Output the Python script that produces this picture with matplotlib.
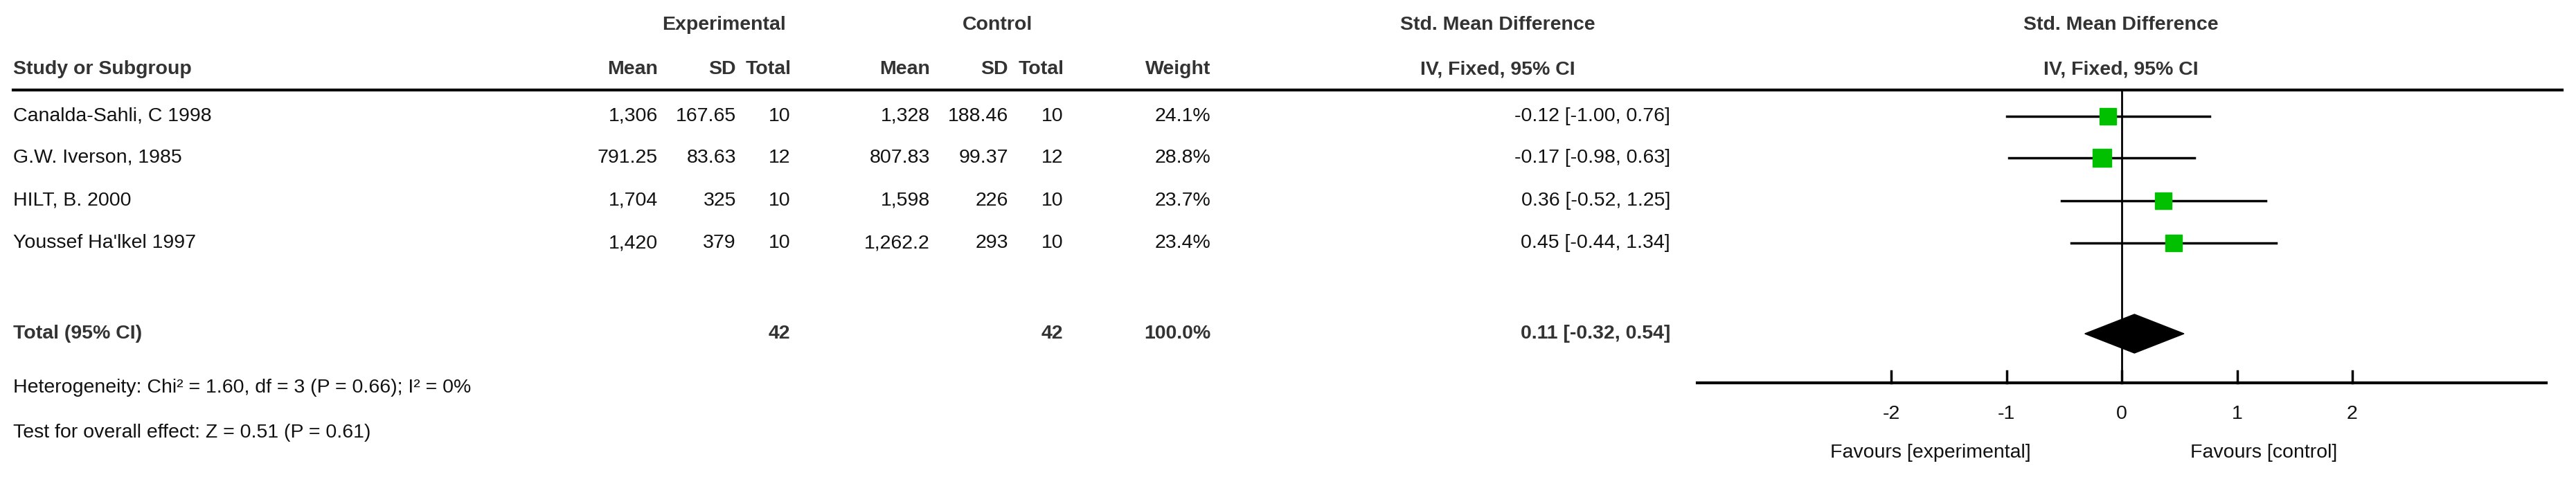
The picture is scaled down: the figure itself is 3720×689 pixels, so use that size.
import matplotlib.pyplot as plt
from matplotlib.patches import Rectangle, Polygon
import numpy as np

studies = ['Canalda-Sahli, C 1998', 'G.W. Iverson, 1985', 'HILT, B. 2000', "Youssef Ha'lkel 1997"]
exp_mean = ['1,306', '791.25', '1,704', '1,420']
exp_sd = ['167.65', '83.63', '325', '379']
exp_n = [10, 12, 10, 10]
ctl_mean = ['1,328', '807.83', '1,598', '1,262.2']
ctl_sd = ['188.46', '99.37', '226', '293']
ctl_n = [10, 12, 10, 10]
weight = [24.1, 28.8, 23.7, 23.4]
smd = [-0.12, -0.17, 0.36, 0.45]
lo = [-1.00, -0.98, -0.52, -0.44]
hi = [0.76, 0.63, 1.25, 1.34]
tot_smd, tot_lo, tot_hi = 0.11, -0.32, 0.54
ticks = [-2, -1, 0, 1, 2]

W, H = 3720, 689
fig = plt.figure(figsize=(W / 100, H / 100), dpi=100)
ax = fig.add_axes([0, 0, 1, 1])
ax.set_xlim(0, W)
ax.set_ylim(H, 0)
ax.axis('off')

fam = ['Liberation Sans', 'DejaVu Sans']
fs = 20.5
txt = dict(fontsize=fs, family=fam, va='center', color='#111111')
bold = dict(txt, fontweight='bold', color='#333333')

# header
ax.text(1045, 36, 'Experimental', ha='center', **bold)
ax.text(1440, 36, 'Control', ha='center', **bold)
ax.text(2163, 36, 'Std. Mean Difference', ha='center', **bold)
ax.text(3063, 36, 'Std. Mean Difference', ha='center', **bold)
row2 = [(19, 'Study or Subgroup', 'left'), (950, 'Mean', 'right'), (1063, 'SD', 'right'),
        (1143, 'Total', 'right'), (1343, 'Mean', 'right'), (1456, 'SD', 'right'),
        (1537, 'Total', 'right'), (1748, 'Weight', 'right')]
for x, s, a in row2:
    ax.text(x, 100, s, ha=a, **bold)
ax.text(2163, 100, 'IV, Fixed, 95% CI', ha='center', **bold)
ax.text(3063, 100, 'IV, Fixed, 95% CI', ha='center', **bold)
ax.plot([19, 3700], [130, 130], color='black', lw=3)

rows_y = [168, 228, 290, 351]
for i, y in enumerate(rows_y):
    ax.text(19, y, studies[i], ha='left', **txt)
    ax.text(950, y, exp_mean[i], ha='right', **txt)
    ax.text(1063, y, exp_sd[i], ha='right', **txt)
    ax.text(1141, y, str(exp_n[i]), ha='right', **txt)
    ax.text(1343, y, ctl_mean[i], ha='right', **txt)
    ax.text(1456, y, ctl_sd[i], ha='right', **txt)
    ax.text(1535, y, str(ctl_n[i]), ha='right', **txt)
    ax.text(1748, y, f'{weight[i]:.1f}%', ha='right', **txt)
    ax.text(2412, y, f'{smd[i]:.2f} [{lo[i]:.2f}, {hi[i]:.2f}]', ha='right', **txt)

ty = 482
ax.text(19, ty, 'Total (95% CI)', ha='left', **bold)
ax.text(1141, ty, str(sum(exp_n)), ha='right', **bold)
ax.text(1535, ty, str(sum(ctl_n)), ha='right', **bold)
ax.text(1748, ty, '100.0%', ha='right', **bold)
ax.text(2412, ty, f'{tot_smd:.2f} [{tot_lo:.2f}, {tot_hi:.2f}]', ha='right', **bold)
ax.text(19, 560, 'Heterogeneity: Chi² = 1.60, df = 3 (P = 0.66); I² = 0%', ha='left', **txt)
ax.text(19, 625, 'Test for overall effect: Z = 0.51 (P = 0.61)', ha='left', **txt)

# forest panel: x in SMD units, y in pixel rows
x0, x1 = 2400, W
zero_px, unit = 3064, 166.5
fx = fig.add_axes([x0 / W, 0, (x1 - x0) / W, 1])
fx.set_xlim((x0 - zero_px) / unit, (x1 - zero_px) / unit)
fx.set_ylim(H, 0)
fx.axis('off')

fx.plot([0, 0], [130, 553], color='black', lw=2)
for i, y in enumerate(rows_y):
    fx.plot([lo[i], hi[i]], [y, y], color='black', lw=2.5)
    side = 5 * np.sqrt(weight[i])
    wd = side / unit
    fx.add_patch(Rectangle((smd[i] - wd / 2, y - side / 2), wd, side, color='#00c000', zorder=3))
fx.add_patch(Polygon([[tot_lo, ty], [tot_smd, ty - 28], [tot_hi, ty], [tot_smd, ty + 28]],
                     closed=True, color='black', zorder=3))

ax_l, ax_r = (2451 - zero_px) / unit, (3677 - zero_px) / unit
fx.plot([ax_l, ax_r], [553, 553], color='black', lw=3)
for t in ticks:
    fx.plot([t, t], [536, 553], color='black', lw=2.5)
    fx.text(t, 598, f'{t}', ha='center', **txt)
fx.text(-1.66, 654, 'Favours [experimental]', ha='center', **txt)
fx.text(1.23, 654, 'Favours [control]', ha='center', **txt)

fig.savefig('out.png', dpi=100)
